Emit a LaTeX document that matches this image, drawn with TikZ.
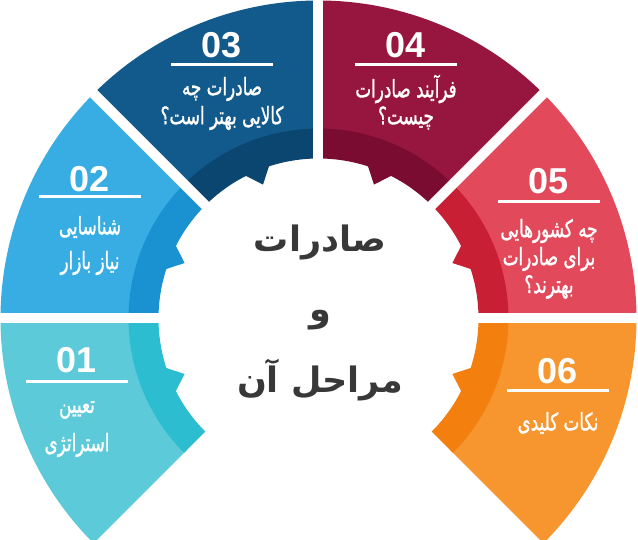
\documentclass[tikz,border=0pt]{standalone}
\usepackage{fontspec}
\TeXXeTstate=1
\newfontfamily\fafont[Script=Arabic]{DejaVu Sans}
\newfontfamily\falbl[Script=Arabic,FakeBold=1.5]{DejaVu Sans}
\newfontfamily\numfont{Liberation Sans}
\definecolor{c1a}{HTML}{5CCAD9}\definecolor{c1b}{HTML}{2DBDD1}
\definecolor{c2a}{HTML}{38ADE3}\definecolor{c2b}{HTML}{1A92D2}
\definecolor{c3a}{HTML}{125A8B}\definecolor{c3b}{HTML}{0B4670}
\definecolor{c4a}{HTML}{961640}\definecolor{c4b}{HTML}{7A0C31}
\definecolor{c5a}{HTML}{E24A5B}\definecolor{c5b}{HTML}{C91F35}
\definecolor{c6a}{HTML}{F7962F}\definecolor{c6b}{HTML}{F3800E}
\definecolor{ctext}{HTML}{383838}
\newcommand\segment[4]{%
  \fill[#3] (#1:186) -- (#1:318) arc[start angle=#1,end angle=#2,radius=318]
     -- (#2:186) arc[start angle=#2,end angle=#1,radius=186] -- cycle;
  \fill[#4] (#1:160) -- (#1:190) arc[start angle=#1,end angle=#2,radius=190]
     -- (#2:160) arc[start angle=#2,end angle=#1,radius=160] -- cycle;
  \pgfmathsetmacro\mid{(#1+#2)/2}
  \fill[#4] ({\mid-5}:162) -- (\mid:145) -- ({\mid+5}:162) -- cycle;
}
\newcommand\fa[1]{\scalebox{0.7}[1]{\beginR #1\endR}}
\tikzset{
  num/.style={font=\numfont\bfseries\fontsize{36}{36}\selectfont, text=white, inner sep=0pt},
  lbl/.style={font=\falbl\fontsize{24}{26}\selectfont, text=white, inner sep=0pt},
  ctr/.style={font=\fafont\bfseries\fontsize{35}{40}\selectfont, text=ctext, inner sep=0pt},
  uline/.style={draw=white, line width=3pt},
  gap/.style={draw=white, line width=10pt}
}
\begin{document}
\begin{tikzpicture}[x=1pt,y=1pt]
\useasboundingbox (-318.5,-221.5) rectangle (319.5,318.5);
\segment{180}{225}{c1a}{c1b}
\segment{135}{180}{c2a}{c2b}
\segment{90}{135}{c3a}{c3b}
\segment{45}{90}{c4a}{c4b}
\segment{0}{45}{c5a}{c5b}
\segment{-45}{0}{c6a}{c6b}
\foreach \a in {0,45,90,135,180} \draw[gap] (0,0) -- (\a:335);
% 01
\node[num] (n01) at (-241.5,-41.5) {01};
\coordinate (u01l) at (-292.5,-63.5); \coordinate (u01r) at (-190.5,-63.5);
\draw[uline] (u01l) -- (u01r);
\node[lbl] (t01a) at (-241.5,-91.5) {\fa{تعیین}};
\node[lbl] (t01b) at (-241.5,-126.5) {\fa{استراتژی}};
% 02
\node[num] (n02) at (-228.5,139.5) {02};
\coordinate (u02l) at (-279.5,121.5); \coordinate (u02r) at (-177.5,121.5);
\draw[uline] (u02l) -- (u02r);
\node[lbl] (t02a) at (-228.5,91.5) {\fa{شناسایی}};
\node[lbl] (t02b) at (-228.5,55.5) {\fa{نیاز بازار}};
% 03
\node[num] (n03) at (-96.5,273.5) {03};
\coordinate (u03l) at (-147.5,253.5); \coordinate (u03r) at (-45.5,253.5);
\draw[uline] (u03l) -- (u03r);
\node[lbl] (t03a) at (-96.5,229.5) {\fa{صادرات چه}};
\node[lbl] (t03b) at (-96.5,200.5) {\fa{کالایی بهتر است؟}};
% 04
\node[num] (n04) at (87.5,273.5) {04};
\coordinate (u04l) at (36.5,253.5); \coordinate (u04r) at (138.5,253.5);
\draw[uline] (u04l) -- (u04r);
\node[lbl] (t04a) at (87.5,229.5) {\fa{فرآیند صادرات}};
\node[lbl] (t04b) at (87.5,200.5) {\fa{چیست؟}};
% 05
\node[num] (n05) at (230.5,137.5) {05};
\coordinate (u05l) at (179.5,116.5); \coordinate (u05r) at (281.5,116.5);
\draw[uline] (u05l) -- (u05r);
\node[lbl] (t05a) at (230.5,87.5) {\fa{چه کشورهایی}};
\node[lbl] (t05b) at (230.5,59.5) {\fa{برای صادرات}};
\node[lbl] (t05c) at (230.5,31.5) {\fa{بهترند؟}};
% 06
\node[num] (n06) at (239.5,-52.5) {06};
\coordinate (u06l) at (188.5,-72.5); \coordinate (u06r) at (290.5,-72.5);
\draw[uline] (u06l) -- (u06r);
\node[lbl] (t06a) at (239.5,-104.5) {\fa{نکات کلیدی}};
% center
\node[ctr] (c1) at (1.5,76.5) {\beginR صادرات\endR};
\node[ctr] (c2) at (1.5,-1.5) {\beginR و\endR};
\node[ctr] (c3) at (1.5,-61.5) {\beginR مراحل آن\endR};
\end{tikzpicture}
\end{document}
